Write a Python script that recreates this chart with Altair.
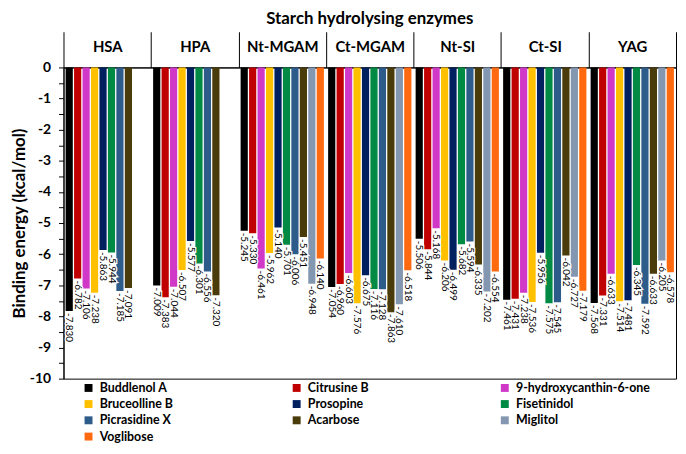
import altair as alt
import pandas as pd

enzymes = ["HSA", "HPA", "Nt-MGAM", "Ct-MGAM", "Nt-SI", "Ct-SI", "YAG"]
compounds = ["Buddlenol A", "Citrusine B", "9-hydroxycanthin-6-one", "Bruceolline B",
             "Prosopine", "Fisetinidol", "Picrasidine X", "Acarbose", "Miglitol", "Voglibose"]
colors = ["#000000", "#C00000", "#D038C8", "#FFC000", "#002060",
          "#008A44", "#2E5C8A", "#4A3B0A", "#8497B0", "#FF6A10"]

hsa = [-7.830, -6.782, -7.106, -7.238, -5.863, -5.944, -7.185, -7.091, None, None]
hpa = [-7.009, -7.383, -7.044, -6.507, -5.577, -6.301, -6.556, -7.320, None, None]
nt_mgam = [-5.245, -5.330, -6.461, -5.962, -5.140, -5.701, -6.006, -5.451, -6.948, -6.140]
ct_mgam = [-7.054, -6.960, -6.603, -7.576, -6.675, -7.116, -7.128, -7.863, -7.610, -6.518]
nt_si = [-5.506, -5.844, -5.168, -6.206, -6.499, -5.682, -5.594, -6.335, -7.202, -6.554]
ct_si = [-7.461, -7.431, -7.238, -7.536, -5.956, -7.575, -7.545, -6.042, -6.727, -7.179]
yag = [-7.568, -7.331, -6.633, -7.514, -7.481, -6.345, -7.592, -6.633, -6.205, -6.578]

series = [hsa, hpa, nt_mgam, ct_mgam, nt_si, ct_si, yag]
y_ticks = [v / 2 for v in range(-20, 1)]

rows = []
for enz, vals in zip(enzymes, series):
    for comp, v in zip(compounds, vals):
        if v is None:
            continue
        rows.append({"enzyme": enz, "compound": comp, "value": v, "label": f"{v:.3f}"})
df = pd.DataFrame(rows)

FONT = "Lato"

base = alt.Chart(df).encode(
    x=alt.X("enzyme:N", sort=enzymes,
            scale=alt.Scale(domain=enzymes, paddingInner=0, paddingOuter=0),
            axis=alt.Axis(orient="top", title=None, labelAngle=0, labelFont=FONT,
                          labelFontSize=15, labelFontWeight="bold", labelColor="black",
                          tickBand="extent", tickSize=36, tickColor="black", tickWidth=1,
                          domainColor="black", domainWidth=1, labelPadding=-15,
                          labelBaseline="middle", grid=False)),
    xOffset=alt.XOffset("compound:N", sort=compounds,
                        scale=alt.Scale(domain=compounds, paddingInner=0.15, paddingOuter=0.25)),
    y=alt.Y("value:Q", scale=alt.Scale(domain=[-10, 0], nice=False),
            axis=alt.Axis(values=y_ticks,
                          labelExpr="datum.value % 1 == 0 ? '' + datum.value : ''",
                          title="Binding energy (kcal/mol)", titleFont=FONT, titleFontSize=17,
                          titleFontWeight="bold", titleColor="black", titlePadding=1,
                          labelFont=FONT, labelFontSize=14, labelFontWeight="bold",
                          labelColor="black", labelPadding=8, tickSize=5, tickColor="black",
                          domainColor="black", domainWidth=1, grid=False)),
)

bars = base.mark_bar().encode(
    color=alt.Color("compound:N", sort=compounds,
                    scale=alt.Scale(domain=compounds, range=colors),
                    legend=alt.Legend(title=None, orient="none", legendX=19, legendY=317,
                                      columns=3, direction="horizontal", gridAlign="all",
                                      columnPadding=57, rowPadding=3.4, symbolType="square",
                                      symbolSize=64, symbolStrokeWidth=0, labelFont=FONT,
                                      labelFontSize=12.5, labelFontWeight="bold",
                                      labelColor="black", labelOffset=5, padding=0,
                                      labelLimit=300))
)

halo = base.mark_text(angle=90, align="left", baseline="middle", dx=2,
                      font=FONT, fontSize=10, color="white", stroke="white",
                      strokeWidth=2.5).encode(text="label:N")

labels = base.mark_text(angle=90, align="left", baseline="middle", dx=2,
                        font=FONT, fontSize=10, color="black").encode(text="label:N")

chart = alt.layer(bars, halo, labels).properties(
    width=618, height=314,
    title=alt.Title("Starch hydrolysing enzymes", font=FONT, fontSize=17,
                    fontWeight="bold", color="black", anchor="middle", offset=3),
    autosize=alt.AutoSizeParams(type="none"),
    padding={"left": 56, "top": 58, "right": 2, "bottom": 66},
).configure_view(stroke="black", strokeWidth=1)

chart.save("out.html", embed_options={"renderer": "svg", "actions": False})
